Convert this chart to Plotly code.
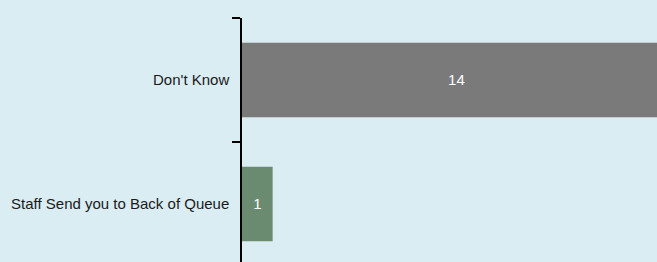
import plotly.graph_objects as go

categories = ["Don't Know", "Staff Send you to Back of Queue"]
values = [14, 1]
colors = ["#7a7a7a", "#6b8b70"]

fig = go.Figure(go.Bar(
    x=values, y=categories, orientation="h",
    marker=dict(color=colors, line=dict(width=0)),
    width=0.6,
    text=[str(v) for v in values], textposition="inside",
    insidetextanchor="middle",
    textfont=dict(family="Arial, Liberation Sans", size=15, color="#ffffff"),
    cliponaxis=True,
))
fig.update_layout(
    width=657, height=262,
    margin=dict(l=242, r=0, t=18, b=0, pad=0),
    paper_bgcolor="#daedf3", plot_bgcolor="#daedf3",
    showlegend=False,
    font=dict(family="Arial, Liberation Sans", size=15, color="#1a1a1a"),
    xaxis=dict(range=[0, 13.55], visible=False, showgrid=False, zeroline=False),
    yaxis=dict(type="category", categoryorder="array", categoryarray=categories,
               range=[1.468, -0.5], showline=True, linecolor="#000000", linewidth=1.5,
               ticks="outside", ticklen=8, tickcolor="#000000", tickwidth=1.5,
               tickson="boundaries", showgrid=False, zeroline=False,
               ticklabelstandoff=8),
)
fig.write_html("out.html", config={"displayModeBar": False},
               post_script="document.body.style.margin='0';document.body.style.background='#daedf3';")
